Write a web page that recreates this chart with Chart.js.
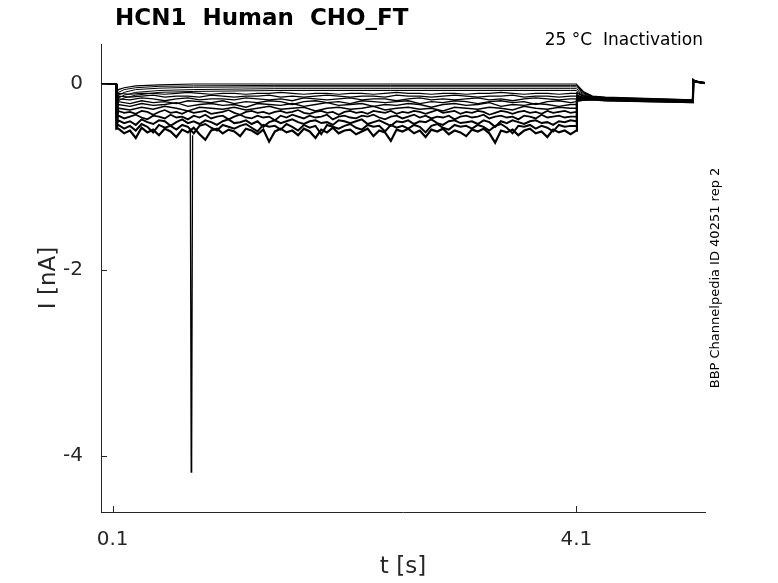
<!DOCTYPE html>
<html>
<head>
<meta charset="utf-8">
<script src="https://cdn.jsdelivr.net/npm/chart.js@4/dist/chart.umd.min.js"></script>
<style>
  html, body { margin: 0; padding: 0; background: #fff; }
  #wrap { width: 778px; height: 583px; position: relative; }
</style>
</head>
<body>
<div id="wrap"><canvas id="chart1"></canvas></div>
<script>
// === data (t in s, I in nA) ===
const xTicks = [0.1, 4.1];
const yTicks = [-4, -2, 0];

// pre-step and post-step pieces shared by all sweeps
const preT = [0, 0.13];
const preI = [0, 0];
const postT = [5.11, 5.12, 5.16, 5.21];
const postI = [0.04, 0.03, 0.02, 0.01];

// step onset / end / tail, one value per sweep (top sweep first)
const onsetDip  = [-0.10, -0.14, -0.18, -0.22, -0.26, -0.28, -0.30, -0.32, -0.34, -0.36, -0.38, -0.40, -0.42, -0.44, -0.46, -0.48];
const stepLevel = [0, -0.015, -0.03, -0.05, -0.07, -0.10, -0.13, -0.16, -0.19, -0.22, -0.26, -0.30, -0.35, -0.40, -0.45, -0.50];
const tailStart = [0, -0.015, -0.03, -0.05, -0.07, -0.09, -0.10, -0.12, -0.13, -0.14, -0.15, -0.16, -0.17, -0.17, -0.18, -0.18];
const tailMid   = [-0.08, -0.09, -0.095, -0.105, -0.115, -0.125, -0.13, -0.14, -0.145, -0.15, -0.155, -0.16, -0.165, -0.165, -0.17, -0.17];
const tailLate  = [-0.13, -0.135, -0.135, -0.14, -0.145, -0.145, -0.15, -0.15, -0.155, -0.155, -0.16, -0.16, -0.16, -0.16, -0.165, -0.165];
const tailLevel = [-0.14, -0.145, -0.15, -0.15, -0.155, -0.155, -0.16, -0.16, -0.16, -0.165, -0.165, -0.17, -0.17, -0.17, -0.175, -0.175];
const tailEnd   = [-0.17, -0.17, -0.175, -0.175, -0.18, -0.18, -0.18, -0.185, -0.185, -0.185, -0.19, -0.19, -0.19, -0.19, -0.195, -0.195];

// upper, nearly smooth sweeps
const upperT = [0.15, 0.2, 0.3, 0.5, 0.8, 1.5, 2.5, 4.05];
const U1 = [-0.06, -0.04, -0.02, -0.01, 0, 0, 0, 0];
const U2 = [-0.09, -0.06, -0.04, -0.025, -0.02, -0.015, -0.015, -0.015];
const U3 = [-0.12, -0.09, -0.06, -0.045, -0.035, -0.03, -0.03, -0.03];
const U4 = [-0.15, -0.12, -0.09, -0.07, -0.06, -0.05, -0.05, -0.05];
const U5 = [-0.18, -0.15, -0.12, -0.09, -0.08, -0.07, -0.07, -0.07];

// middle sweeps, light noise
const midT = [
  0.15, 0.25, 0.35, 0.45, 0.55, 0.65, 0.75, 0.85, 0.95, 1.05,
  1.15, 1.25, 1.35, 1.45, 1.55, 1.65, 1.75, 1.85, 1.95, 2.05,
  2.15, 2.25, 2.35, 2.45, 2.55, 2.65, 2.75, 2.85, 2.95, 3.05,
  3.15, 3.25, 3.35, 3.45, 3.55, 3.65, 3.75, 3.85, 3.95, 4.05];
const M1 = [
  -0.10, -0.11, -0.10, -0.10, -0.11, -0.10, -0.09, -0.10, -0.11, -0.10,
  -0.10, -0.11, -0.10, -0.10, -0.09, -0.10, -0.11, -0.10, -0.10, -0.11,
  -0.10, -0.10, -0.11, -0.10, -0.09, -0.10, -0.10, -0.11, -0.10, -0.10,
  -0.11, -0.10, -0.10, -0.09, -0.10, -0.11, -0.10, -0.10, -0.11, -0.10];
const M2 = [
  -0.13, -0.14, -0.13, -0.12, -0.14, -0.13, -0.13, -0.14, -0.12, -0.13,
  -0.14, -0.13, -0.13, -0.12, -0.14, -0.13, -0.14, -0.13, -0.12, -0.13,
  -0.14, -0.13, -0.13, -0.14, -0.12, -0.13, -0.13, -0.14, -0.13, -0.12,
  -0.13, -0.14, -0.13, -0.13, -0.12, -0.14, -0.13, -0.13, -0.14, -0.13];
const M3 = [
  -0.16, -0.17, -0.15, -0.16, -0.18, -0.16, -0.15, -0.17, -0.16, -0.16,
  -0.17, -0.15, -0.16, -0.17, -0.16, -0.18, -0.15, -0.16, -0.17, -0.16,
  -0.15, -0.17, -0.16, -0.16, -0.18, -0.16, -0.15, -0.17, -0.16, -0.17,
  -0.16, -0.15, -0.17, -0.16, -0.18, -0.16, -0.15, -0.16, -0.17, -0.16];
const M4 = [
  -0.19, -0.21, -0.18, -0.20, -0.19, -0.21, -0.18, -0.19, -0.20, -0.18,
  -0.21, -0.19, -0.20, -0.18, -0.19, -0.22, -0.19, -0.18, -0.20, -0.19,
  -0.21, -0.18, -0.19, -0.20, -0.19, -0.18, -0.21, -0.19, -0.20, -0.18,
  -0.19, -0.21, -0.19, -0.18, -0.20, -0.19, -0.22, -0.19, -0.18, -0.20];
const M5 = [
  -0.22, -0.24, -0.21, -0.23, -0.22, -0.20, -0.24, -0.22, -0.21, -0.23,
  -0.22, -0.25, -0.21, -0.22, -0.23, -0.21, -0.24, -0.22, -0.20, -0.23,
  -0.22, -0.21, -0.24, -0.22, -0.23, -0.21, -0.22, -0.25, -0.22, -0.21,
  -0.23, -0.22, -0.20, -0.24, -0.22, -0.23, -0.21, -0.22, -0.24, -0.22];
const M6 = [
  -0.26, -0.28, -0.25, -0.27, -0.24, -0.26, -0.29, -0.25, -0.26, -0.27,
  -0.25, -0.28, -0.26, -0.24, -0.27, -0.26, -0.25, -0.29, -0.26, -0.25,
  -0.27, -0.26, -0.24, -0.28, -0.26, -0.25, -0.27, -0.26, -0.29, -0.25,
  -0.26, -0.27, -0.25, -0.26, -0.28, -0.24, -0.26, -0.27, -0.25, -0.26];

// lower, noisy sweeps
const fineT = [
  0.15, 0.20, 0.25, 0.30, 0.35, 0.40, 0.45, 0.50, 0.55, 0.60,
  0.65, 0.70, 0.75, 0.80, 0.85, 0.90, 0.95, 1.00, 1.05, 1.10,
  1.15, 1.20, 1.25, 1.30, 1.35, 1.40, 1.45, 1.50, 1.55, 1.60,
  1.65, 1.70, 1.75, 1.80, 1.85, 1.90, 1.95, 2.00, 2.05, 2.10,
  2.15, 2.20, 2.25, 2.30, 2.35, 2.40, 2.45, 2.50, 2.55, 2.60,
  2.65, 2.70, 2.75, 2.80, 2.85, 2.90, 2.95, 3.00, 3.05, 3.10,
  3.15, 3.20, 3.25, 3.30, 3.35, 3.40, 3.45, 3.50, 3.55, 3.60,
  3.65, 3.70, 3.75, 3.80, 3.85, 3.90, 3.95, 4.00, 4.05];
const N1 = [
  -0.29, -0.31, -0.30, -0.32, -0.29, -0.30, -0.33, -0.30, -0.28, -0.31,
  -0.30, -0.32, -0.29, -0.31, -0.30, -0.29, -0.32, -0.31, -0.30, -0.28,
  -0.31, -0.33, -0.30, -0.29, -0.31, -0.30, -0.32, -0.30, -0.29, -0.31,
  -0.30, -0.28, -0.31, -0.32, -0.30, -0.29, -0.31, -0.30, -0.33, -0.30,
  -0.29, -0.31, -0.30, -0.32, -0.29, -0.30, -0.31, -0.29, -0.32, -0.30,
  -0.31, -0.29, -0.30, -0.32, -0.30, -0.28, -0.31, -0.30, -0.29, -0.32,
  -0.30, -0.31, -0.29, -0.30, -0.33, -0.31, -0.29, -0.30, -0.32, -0.30,
  -0.29, -0.31, -0.30, -0.32, -0.29, -0.31, -0.30, -0.29, -0.31];
const N2 = [
  -0.34, -0.37, -0.35, -0.33, -0.36, -0.38, -0.34, -0.35, -0.37, -0.33,
  -0.36, -0.35, -0.38, -0.34, -0.36, -0.33, -0.37, -0.35, -0.34, -0.38,
  -0.35, -0.33, -0.36, -0.37, -0.34, -0.36, -0.35, -0.39, -0.34, -0.36,
  -0.33, -0.35, -0.37, -0.34, -0.36, -0.35, -0.33, -0.38, -0.35, -0.34,
  -0.36, -0.37, -0.34, -0.35, -0.33, -0.36, -0.38, -0.35, -0.34, -0.37,
  -0.35, -0.33, -0.36, -0.34, -0.37, -0.35, -0.36, -0.34, -0.38, -0.35,
  -0.34, -0.36, -0.35, -0.33, -0.37, -0.35, -0.34, -0.36, -0.35, -0.38,
  -0.34, -0.35, -0.37, -0.33, -0.36, -0.35, -0.34, -0.36, -0.35];
const N3 = [
  -0.39, -0.42, -0.40, -0.44, -0.38, -0.41, -0.43, -0.39, -0.40, -0.45,
  -0.41, -0.38, -0.42, -0.40, -0.43, -0.39, -0.41, -0.44, -0.40, -0.38,
  -0.42, -0.41, -0.39, -0.43, -0.40, -0.46, -0.41, -0.39, -0.42, -0.40,
  -0.38, -0.41, -0.43, -0.40, -0.39, -0.42, -0.41, -0.44, -0.39, -0.40,
  -0.42, -0.40, -0.38, -0.43, -0.41, -0.39, -0.42, -0.45, -0.40, -0.41,
  -0.39, -0.43, -0.40, -0.41, -0.38, -0.42, -0.44, -0.40, -0.39, -0.42,
  -0.41, -0.40, -0.43, -0.39, -0.41, -0.46, -0.40, -0.42, -0.39, -0.41,
  -0.43, -0.40, -0.39, -0.42, -0.41, -0.44, -0.40, -0.41, -0.39];
const N4 = [
  -0.44, -0.48, -0.45, -0.50, -0.43, -0.46, -0.52, -0.44, -0.47, -0.45,
  -0.49, -0.44, -0.46, -0.53, -0.45, -0.43, -0.47, -0.50, -0.44, -0.46,
  -0.48, -0.45, -0.43, -0.47, -0.51, -0.44, -0.46, -0.45, -0.49, -0.43,
  -0.46, -0.50, -0.44, -0.47, -0.45, -0.54, -0.44, -0.46, -0.48, -0.45,
  -0.43, -0.47, -0.49, -0.44, -0.46, -0.45, -0.51, -0.44, -0.47, -0.45,
  -0.48, -0.44, -0.46, -0.52, -0.45, -0.43, -0.47, -0.49, -0.44, -0.46,
  -0.45, -0.48, -0.44, -0.46, -0.50, -0.45, -0.43, -0.47, -0.53, -0.45,
  -0.46, -0.44, -0.48, -0.45, -0.47, -0.51, -0.44, -0.46, -0.45];
const N5 = [
  -0.48, -0.53, -0.50, -0.58, -0.47, -0.52, -0.49, -0.55, -0.48, -0.51,
  -0.57, -0.49, -0.52, -0.47, -0.54, -0.60, -0.50, -0.48, -0.53, -0.49,
  -0.51, -0.56, -0.48, -0.50, -0.54, -0.49, -0.62, -0.51, -0.48, -0.52,
  -0.50, -0.55, -0.48, -0.51, -0.58, -0.49, -0.52, -0.47, -0.53, -0.50,
  -0.49, -0.54, -0.51, -0.48, -0.56, -0.50, -0.52, -0.61, -0.49, -0.51,
  -0.48, -0.53, -0.50, -0.57, -0.49, -0.51, -0.48, -0.54, -0.50, -0.52,
  -0.56, -0.49, -0.51, -0.48, -0.53, -0.63, -0.50, -0.52, -0.49, -0.55,
  -0.50, -0.48, -0.53, -0.51, -0.57, -0.49, -0.52, -0.50, -0.54];

// the single artefact spike
const spikeT = [0.77, 0.778, 0.782, 0.79];
const spikeI = [-0.5, -4.17, -4.0, -0.55];

const stepParts = [
  [upperT, U1], [upperT, U2], [upperT, U3], [upperT, U4], [upperT, U5],
  [midT, M1], [midT, M2], [midT, M3], [midT, M4], [midT, M5], [midT, M6],
  [fineT, N1], [fineT, N2], [fineT, N3], [fineT, N4], [fineT, N5]
];
// thicker pen for the noisier sweeps so they read as a dense band
const penWidth = [1.2, 1, 1, 1, 1, 1.2, 1.2, 1.3, 1.3, 1.4, 1.5, 1.7, 1.8, 2, 2, 2.2];

const zip = (ts, vs) => ts.map((t, i) => ({ x: t, y: vs[i] }));

function buildSweep(k) {
  const [ts, vs] = stepParts[k];
  return [
    ...zip(preT, preI),
    { x: 0.135, y: onsetDip[k] },
    ...zip(ts, vs),
    { x: 4.1, y: stepLevel[k] },
    { x: 4.105, y: tailStart[k] },
    { x: 4.16, y: tailMid[k] },
    { x: 4.24, y: tailLate[k] },
    { x: 4.35, y: tailLevel[k] },
    { x: 5.105, y: tailEnd[k] },
    ...zip(postT, postI)
  ];
}

const datasets = stepParts.map((_, k) => ({
  data: buildSweep(k),
  borderColor: '#000', borderWidth: penWidth[k], pointRadius: 0, showLine: true, tension: 0
}));
datasets.push({
  data: zip(spikeT, spikeI),
  borderColor: '#000', borderWidth: 1.3, pointRadius: 0, showLine: true, tension: 0
});

const axisGrey = '#262626';
const FONT = '"DejaVu Sans", "Liberation Sans", sans-serif';

// inward ticks + title texts
const decor = {
  id: 'decor',
  afterDraw(chart) {
    const { ctx, chartArea: a, scales: { x, y } } = chart;
    ctx.save();
    ctx.strokeStyle = axisGrey;
    ctx.lineWidth = 1;
    ctx.beginPath();
    xTicks.forEach(v => {
      const px = Math.round(x.getPixelForValue(v)) + 0.5;
      ctx.moveTo(px, a.bottom); ctx.lineTo(px, a.bottom - 6);
    });
    yTicks.forEach(v => {
      const py = Math.round(y.getPixelForValue(v)) + 0.5;
      ctx.moveTo(a.left, py); ctx.lineTo(a.left + 6, py);
    });
    ctx.stroke();

    ctx.fillStyle = '#000';
    ctx.textBaseline = 'middle';
    ctx.textAlign = 'left';
    ctx.font = 'bold 23px ' + FONT;
    ctx.fillText('HCN1  Human  CHO_FT', 115, 19);
    ctx.textAlign = 'right';
    ctx.font = '17px ' + FONT;
    ctx.fillText('25 °C  Inactivation', 703, 41);

    ctx.translate(716, 278);
    ctx.rotate(-Math.PI / 2);
    ctx.textAlign = 'center';
    ctx.font = '13px ' + FONT;
    ctx.fillText('BBP Channelpedia ID 40251 rep 2', 0, 0);
    ctx.restore();
  }
};

new Chart(document.getElementById('chart1'), {
  type: 'scatter',
  data: { datasets },
  plugins: [decor],
  options: {
    responsive: true,
    maintainAspectRatio: false,
    animation: false,
    events: [],
    layout: { padding: { left: 0, right: 73, top: 44, bottom: 0 } },
    plugins: { legend: { display: false }, tooltip: { enabled: false } },
    scales: {
      x: {
        type: 'linear', min: 0, max: 5.21,
        afterBuildTicks: s => { s.ticks = xTicks.map(v => ({ value: v })); },
        afterFit: s => { s.height = 71; },
        grid: { display: false },
        border: { display: true, color: axisGrey, width: 1 },
        ticks: { color: axisGrey, font: { family: FONT, size: 20 }, padding: 8, maxRotation: 0, callback: v => String(v) },
        title: { display: true, text: 't [s]', color: axisGrey, font: { family: FONT, size: 23 }, padding: { top: 0, bottom: 2 } }
      },
      y: {
        type: 'linear', min: -4.6, max: 0.43,
        afterBuildTicks: s => { s.ticks = yTicks.map(v => ({ value: v })); },
        afterFit: s => { s.width = 101; },
        grid: { display: false },
        border: { display: true, color: axisGrey, width: 1 },
        ticks: { color: axisGrey, font: { family: FONT, size: 20 }, padding: 10, callback: v => String(v) },
        title: { display: true, text: 'I [nA]', color: axisGrey, font: { family: FONT, size: 23 }, padding: { top: 35, bottom: 0 } }
      }
    }
  }
});
</script>
</body>
</html>
